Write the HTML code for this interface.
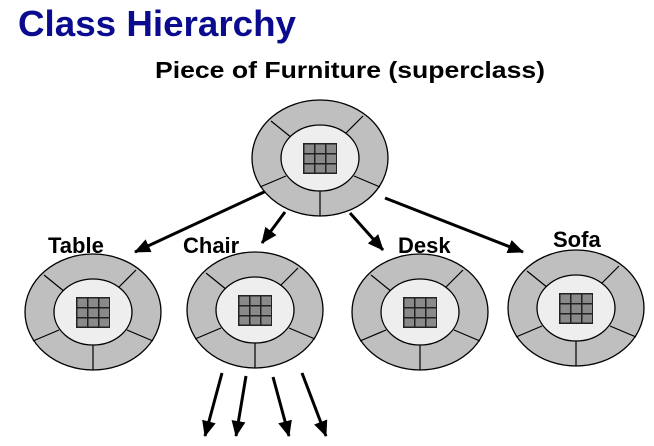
<!DOCTYPE html>
<html><head><meta charset="utf-8"><style>
html,body{margin:0;padding:0;background:#fff;}
svg{display:block;}
text{font-family:"Liberation Sans",Arial,sans-serif;font-weight:bold;}
</style></head><body>
<svg width="654" height="446" viewBox="0 0 654 446" xmlns="http://www.w3.org/2000/svg">
<defs>
<g id="node">
  <ellipse cx="0" cy="0" rx="68" ry="58" fill="#bfbfbf" stroke="#000" stroke-width="1.3"/>
  <line x1="-49" y1="-37" x2="-28" y2="-20" stroke="#000" stroke-width="1.2"/>
  <line x1="43" y1="-42" x2="25" y2="-24" stroke="#000" stroke-width="1.2"/>
  <line x1="-60" y1="29" x2="-34" y2="18" stroke="#000" stroke-width="1.2"/>
  <line x1="34" y1="18" x2="60" y2="29" stroke="#000" stroke-width="1.2"/>
  <line x1="0" y1="33" x2="0" y2="58" stroke="#000" stroke-width="1.2"/>
  <ellipse cx="0" cy="0" rx="39" ry="33" fill="#eeeeee" stroke="#000" stroke-width="1.3"/>
  <rect x="-17" y="-15" width="34" height="31" fill="#222"/>
  <g fill="#8a8a8a">
    <rect x="-15.5" y="-13.5" width="9.5" height="8.5"/><rect x="-4.5" y="-13.5" width="9.5" height="8.5"/><rect x="6.5" y="-13.5" width="9.5" height="8.5"/>
    <rect x="-15.5" y="-3.5" width="9.5" height="8.5"/><rect x="-4.5" y="-3.5" width="9.5" height="8.5"/><rect x="6.5" y="-3.5" width="9.5" height="8.5"/>
    <rect x="-15.5" y="6.5" width="9.5" height="8"/><rect x="-4.5" y="6.5" width="9.5" height="8"/><rect x="6.5" y="6.5" width="9.5" height="8"/>
  </g>
</g>
<marker id="ah2" markerWidth="16" markerHeight="14" refX="15" refY="7" orient="auto" markerUnits="userSpaceOnUse" viewBox="0 0 16 14">
  <path d="M0,0 L16,7 L0,14 Z" fill="#000"/>
</marker>
</defs>

<text x="18" y="36" font-size="36" fill="#0b0b8f" textLength="278" lengthAdjust="spacingAndGlyphs">Class Hierarchy</text>
<text x="155" y="78" font-size="23" fill="#000" textLength="390" lengthAdjust="spacingAndGlyphs">Piece of Furniture (superclass)</text>

<g stroke="#000" stroke-width="3" fill="none">
  <line x1="277" y1="186" x2="135" y2="252" marker-end="url(#ah2)"/>
  <line x1="285" y1="212" x2="262" y2="243" marker-end="url(#ah2)"/>
  <line x1="350" y1="213" x2="383" y2="250" marker-end="url(#ah2)"/>
  <line x1="385" y1="198" x2="523" y2="252" marker-end="url(#ah2)"/>
  <line x1="222" y1="373" x2="205" y2="436" marker-end="url(#ah2)"/>
  <line x1="246" y1="376" x2="236" y2="436" marker-end="url(#ah2)"/>
  <line x1="273" y1="377" x2="289" y2="436" marker-end="url(#ah2)"/>
  <line x1="302" y1="373" x2="326" y2="436" marker-end="url(#ah2)"/>
</g>

<use href="#node" transform="translate(320,158)"/>
<use href="#node" transform="translate(93,312)"/>
<use href="#node" transform="translate(255,310)"/>
<use href="#node" transform="translate(420,312)"/>
<use href="#node" transform="translate(576,308)"/>

<text x="48" y="253" font-size="22" fill="#000">Table</text>
<text x="183" y="253" font-size="22" fill="#000">Chair</text>
<text x="398" y="253" font-size="22" fill="#000">Desk</text>
<text x="553" y="247" font-size="22" fill="#000">Sofa</text>
</svg>
</body></html>
